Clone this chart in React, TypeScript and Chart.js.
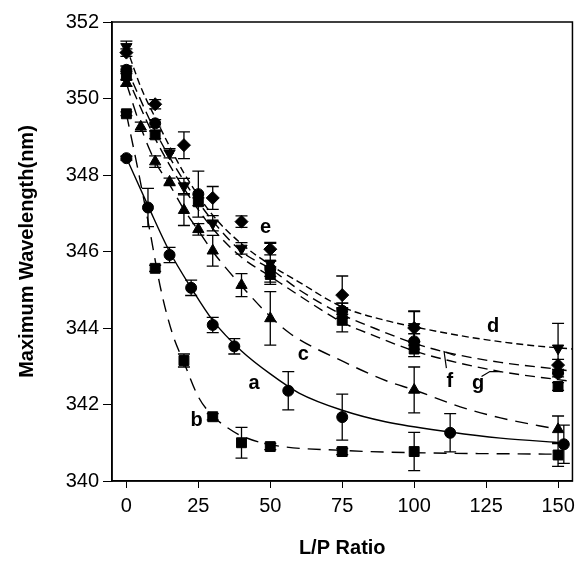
import React, { useEffect, useRef } from 'react';
import { Chart, registerables } from 'chart.js';

Chart.register(...registerables);

const xTicks = [0, 25, 50, 75, 100, 125, 150];
const yTicks = [340, 342, 344, 346, 348, 350, 352];

// measured points (x, y, error)
const aX = [0, 7.5, 15, 22.5, 30, 37.5, 56.25, 75, 112.5, 152];
const aY = [348.44, 347.15, 345.91, 345.05, 344.08, 343.52, 342.36, 341.67, 341.26, 340.96];
const aE = [0.05, 0.5, 0.2, 0.2, 0.2, 0.2, 0.5, 0.6, 0.5, 0.5];

const bX = [0, 10, 20, 30, 40, 50, 75, 100, 150];
const bY = [349.6, 345.56, 343.15, 341.68, 341.0, 340.9, 340.77, 340.77, 340.68];
const bE = [0.05, 0.08, 0.17, 0.08, 0.4, 0.08, 0.08, 0.5, 0.3];

const cX = [0, 5, 10, 15, 20, 25, 30, 40, 50, 100, 150];
const cY = [350.4, 349.26, 348.35, 347.82, 347.08, 346.58, 346.02, 345.12, 344.25, 342.38, 341.35];
const cE = [0.08, 0.12, 0.15, 0.1, 0.4, 0.15, 0.4, 0.3, 0.7, 0.6, 0.35];

const dX = [0, 15, 20, 30, 40, 50, 75, 100, 150];
const dY = [351.35, 348.57, 347.71, 346.74, 346.08, 345.69, 344.45, 344.03, 343.47];
const dE = [0.15, 0.12, 0.2, 0.2, 0.15, 0.55, 0.2, 0.4, 0.65];

const eX = [0, 10, 20, 30, 40, 50, 75, 100, 150];
const eY = [351.2, 349.85, 348.78, 347.4, 346.78, 346.06, 344.86, 344.0, 343.03];
const eE = [0.1, 0.12, 0.35, 0.3, 0.15, 0.15, 0.5, 0.45, 0.15];

const fX = [0, 10, 25, 50, 75, 100, 150];
const fY = [350.75, 349.35, 347.5, 345.55, 344.45, 343.65, 342.82];
const fE = [0.1, 0.1, 0.6, 0.2, 0.2, 0.2, 0.1];

const gX = [0, 10, 25, 50, 75, 100, 150];
const gY = [350.6, 349.05, 347.3, 345.4, 344.2, 343.45, 342.47];
const gE = [0.1, 0.1, 0.1, 0.2, 0.3, 0.2, 0.1];

// fitted curves
const aCurveX = [0, 7.5, 15, 22.5, 30, 40, 50, 60, 75, 90, 112.5, 130, 152];
const aCurveY = [348.45, 347.2, 346.0, 345.05, 344.2, 343.4, 342.8, 342.3, 341.85, 341.55, 341.28, 341.12, 341.0];
const bCurveX = [0, 4, 8, 12, 16, 20, 25, 30, 35, 40, 50, 75, 100, 150];
const bCurveY = [349.6, 348.15, 346.6, 345.0, 343.85, 343.1, 342.2, 341.7, 341.4, 341.18, 340.95, 340.8, 340.74, 340.7];
const cCurveX = [0, 5, 10, 15, 20, 25, 30, 40, 50, 57, 76, 91, 100, 116, 130, 150];
const cCurveY = [350.4, 349.25, 348.35, 347.75, 347.1, 346.55, 346.0, 345.1, 344.3, 343.85, 343.1, 342.6, 342.38, 341.94, 341.65, 341.35];
const dCurveX = [0, 5, 10, 15, 20, 30, 40, 50, 60, 75, 90, 100, 120, 140, 155];
const dCurveY = [351.35, 350.3, 349.5, 348.75, 348.05, 346.95, 346.2, 345.65, 345.2, 344.55, 344.2, 344.03, 343.75, 343.55, 343.45];
const fCurveX = [0, 10, 20, 30, 40, 50, 60, 75, 86, 100, 112, 130, 150, 155];
const fCurveY = [350.8, 349.15, 347.85, 346.8, 346.0, 345.55, 345.0, 344.35, 344.0, 343.6, 343.35, 343.1, 342.92, 342.87];
const gCurveX = [0, 10, 20, 30, 40, 50, 60, 75, 86, 100, 112, 130, 150, 155];
const gCurveY = [350.6, 348.95, 347.65, 346.6, 345.85, 345.35, 344.85, 344.15, 343.8, 343.4, 343.15, 342.86, 342.65, 342.6];

const labelText = ['a', 'b', 'c', 'd', 'e', 'f', 'g'];
const labelX = [44.4, 24.4, 61.5, 127.4, 48.4, 112.4, 122.2];
const labelY = [342.55, 341.58, 343.3, 344.03, 346.63, 342.6, 342.54];

const fLeaderX = [111.2, 110.4, 114.1];
const fLeaderY = [342.95, 343.38, 343.28];
const gLeaderX = [123.4, 126.3, 130.3];
const gLeaderY = [342.73, 342.86, 342.86];

const FONT = '"Liberation Sans", Arial, Helvetica, sans-serif';

const pts = (xs: number[], ys: number[]) => xs.map((x, i) => ({ x, y: ys[i] }));

export default function App() {
  const ref = useRef<HTMLCanvasElement>(null);

  useEffect(() => {
    if (!ref.current) return;

    const markerSets = [
      { xs: aX, ys: aY, es: aE, style: 'circle', r: 5.5, rot: 0 },
      { xs: bX, ys: bY, es: bE, style: 'rect', r: 7, rot: 0 },
      { xs: cX, ys: cY, es: cE, style: 'triangle', r: 6.5, rot: 0 },
      { xs: dX, ys: dY, es: dE, style: 'triangle', r: 6.5, rot: 180 },
      { xs: eX, ys: eY, es: eE, style: 'rectRot', r: 6.5, rot: 0 },
      { xs: fX, ys: fY, es: fE, style: 'circle', r: 5.5, rot: 0 },
      { xs: gX, ys: gY, es: gE, style: 'rect', r: 7, rot: 0 },
    ];

    const curveSets = [
      { xs: aCurveX, ys: aCurveY, dash: [] as number[] },
      { xs: bCurveX, ys: bCurveY, dash: [13, 8] },
      { xs: cCurveX, ys: cCurveY, dash: [13, 8] },
      { xs: dCurveX, ys: dCurveY, dash: [7, 4] },
      { xs: fCurveX, ys: fCurveY, dash: [10, 6] },
      { xs: gCurveX, ys: gCurveY, dash: [10, 6] },
    ];

    const datasets: any[] = [];
    curveSets.forEach((c) => {
      datasets.push({
        data: pts(c.xs, c.ys),
        showLine: true,
        borderColor: '#000',
        borderWidth: 1.4,
        borderDash: c.dash,
        pointRadius: 0,
        cubicInterpolationMode: 'monotone',
        order: 2,
      });
    });
    markerSets.forEach((m) => {
      datasets.push({
        data: pts(m.xs, m.ys),
        showLine: false,
        pointStyle: m.style,
        pointRadius: m.r,
        rotation: m.rot,
        backgroundColor: '#000',
        borderColor: '#000',
        borderWidth: 1,
        order: 1,
      });
    });

    const errorBars = {
      id: 'errorBars',
      afterDatasetsDraw(chart: any) {
        const { ctx, scales } = chart;
        const xs = scales.x;
        const ys = scales.y;
        ctx.save();
        ctx.strokeStyle = '#000';
        ctx.lineWidth = 1.3;
        markerSets.forEach((m) => {
          m.xs.forEach((x, i) => {
            const px = xs.getPixelForValue(x);
            const top = ys.getPixelForValue(m.ys[i] + m.es[i]);
            const bot = ys.getPixelForValue(m.ys[i] - m.es[i]);
            ctx.beginPath();
            ctx.moveTo(px, top);
            ctx.lineTo(px, bot);
            ctx.moveTo(px - 6, top);
            ctx.lineTo(px + 6, top);
            ctx.moveTo(px - 6, bot);
            ctx.lineTo(px + 6, bot);
            ctx.stroke();
          });
        });
        ctx.restore();
      },
    };

    const frameAndLabels = {
      id: 'frameAndLabels',
      afterDraw(chart: any) {
        const { ctx, chartArea, scales } = chart;
        const xs = scales.x;
        const ys = scales.y;
        ctx.save();
        ctx.strokeStyle = '#000';
        ctx.lineWidth = 1.5;
        ctx.strokeRect(chartArea.left, chartArea.top, chartArea.right - chartArea.left, chartArea.bottom - chartArea.top);
        ctx.fillStyle = '#000';
        ctx.font = 'bold 20px ' + FONT;
        ctx.textAlign = 'center';
        ctx.textBaseline = 'middle';
        labelText.forEach((t, i) => {
          ctx.fillText(t, xs.getPixelForValue(labelX[i]), ys.getPixelForValue(labelY[i]));
        });
        ctx.lineWidth = 1.2;
        [[fLeaderX, fLeaderY], [gLeaderX, gLeaderY]].forEach(([lx, ly]) => {
          ctx.beginPath();
          lx.forEach((x, i) => {
            const px = xs.getPixelForValue(x);
            const py = ys.getPixelForValue(ly[i]);
            if (i === 0) ctx.moveTo(px, py);
            else ctx.lineTo(px, py);
          });
          ctx.stroke();
        });
        ctx.restore();
      },
    };

    const chart = new Chart(ref.current, {
      type: 'scatter',
      data: { datasets },
      options: {
        responsive: false,
        animation: false,
        events: [],
        layout: { padding: { top: 22, right: 6, left: 0, bottom: 0 } },
        plugins: { legend: { display: false }, tooltip: { enabled: false } },
        scales: {
          x: {
            type: 'linear',
            min: -5,
            max: 155,
            afterBuildTicks: (s: any) => {
              s.ticks = xTicks.map((v) => ({ value: v }));
            },
            afterFit: (s: any) => {
              s.height = 89;
            },
            grid: { display: true, drawOnChartArea: false, drawTicks: true, tickLength: 7, color: '#000', lineWidth: 1 },
            border: { display: true, color: '#000', width: 1.5 },
            ticks: { color: '#000', font: { family: FONT, size: 20 }, padding: 6, maxRotation: 0 },
            title: {
              display: true,
              text: 'L/P Ratio',
              color: '#000',
              font: { family: FONT, size: 20, weight: 'bold' },
              padding: { top: 0, bottom: 10 },
            },
          },
          y: {
            type: 'linear',
            min: 340,
            max: 352,
            afterBuildTicks: (s: any) => {
              s.ticks = yTicks.map((v) => ({ value: v }));
            },
            afterFit: (s: any) => {
              s.width = 112;
            },
            grid: { display: true, drawOnChartArea: false, drawTicks: true, tickLength: 9, color: '#000', lineWidth: 1 },
            border: { display: true, color: '#000', width: 1.5 },
            ticks: { color: '#000', font: { family: FONT, size: 20 }, padding: 4 },
            title: {
              display: true,
              text: 'Maximum Wavelength(nm)',
              color: '#000',
              font: { family: FONT, size: 20, weight: 'bold' },
              padding: { top: 15, bottom: 0 },
            },
          },
        },
      } as any,
      plugins: [errorBars, frameAndLabels],
    });

    return () => chart.destroy();
  }, []);

  return (
    <div style={{ position: 'absolute', left: 0, top: 0, width: 581, height: 570, background: '#fff' }}>
      <canvas ref={ref} width={581} height={570} style={{ display: 'block' }} />
    </div>
  );
}
